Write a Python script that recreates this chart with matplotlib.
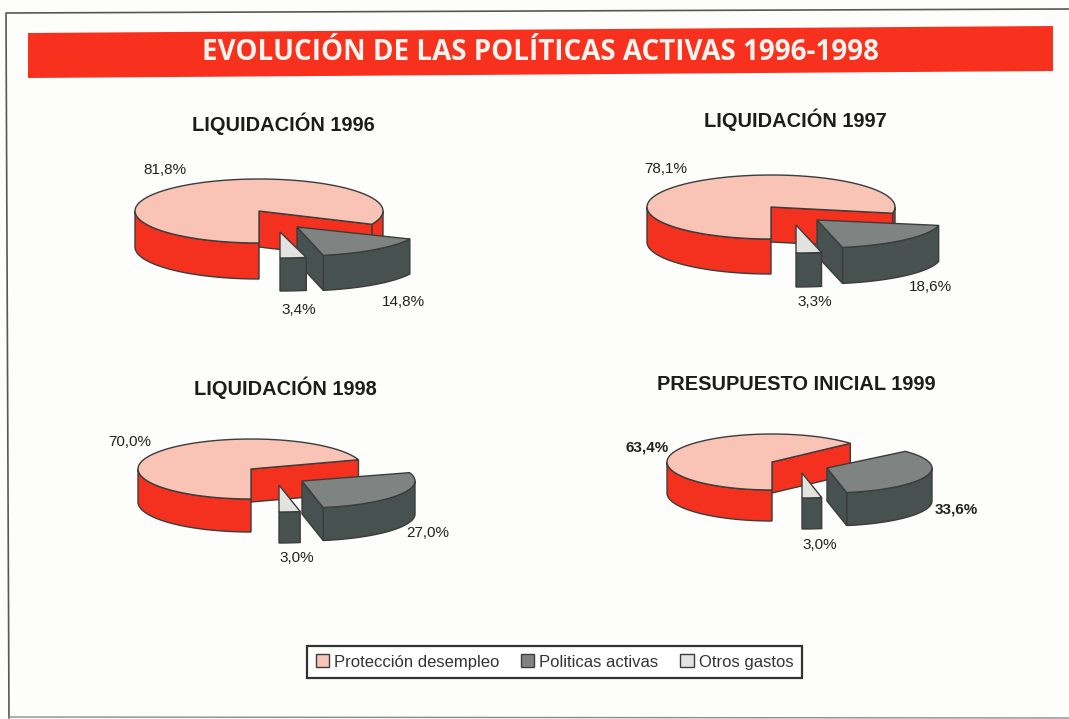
import matplotlib.pyplot as plt
import numpy as np
from matplotlib.patches import Polygon, Rectangle

titles = ["LIQUIDACIÓN 1996", "LIQUIDACIÓN 1997", "LIQUIDACIÓN 1998", "PRESUPUESTO INICIAL 1999"]
proteccion = [81.8, 78.1, 70.0, 63.4]
politicas = [14.8, 18.6, 27.0, 33.6]
otros = [3.4, 3.3, 3.0, 3.0]
legend_names = ["Protección desempleo", "Politicas activas", "Otros gastos"]

RED = "#f4301f"
PINK = "#f9c4b6"
DARK_TOP = "#7f8483"
DARK_SIDE = "#47514f"
GREY_TOP = "#e2e2df"
EDGE = "#3a3d3c"
BAR = "#f8301e"

# layout of each pie: centre, radii, depth, then (apex, ry, depth) of the two exploded slices
layout = [
    dict(c=(259, 211), rx=124, ry=32, d=36, dark=((297, 227), 29, 35), other=((280, 232), 26, 33)),
    dict(c=(771, 207), rx=124, ry=32, d=35, dark=((817, 220), 28, 36), other=((796, 225), 28, 34)),
    dict(c=(251, 469), rx=113, ry=30, d=33, dark=((302, 481), 27, 33), other=((279, 485), 27, 31)),
    dict(c=(772, 462), rx=105, ry=28, d=31, dark=((827, 468), 25, 33), other=((802, 473), 25, 31)),
]
title_pos = [(283, 124), (795, 120), (285, 388), (796, 384)]
main_lab = [(165, 170), (666, 169), (130, 442), (647, 447)]
dark_lab = [(403, 302), (930, 287), (428, 533), (956, 510)]
other_lab = [(299, 310), (815, 302), (297, 558), (820, 545)]
bold_main_dark = [False, False, False, True]


def arc(c, rx, ry, a1, a2):
    t = np.radians(np.linspace(a1, a2, 80))
    return np.column_stack([c[0] + rx * np.cos(t), c[1] - ry * np.sin(t)])


def draw_slice(ax, c, rx, ry, d, a1, a2, top, side, z):
    """slice running clockwise from a1 to a2 (degrees), with its visible walls"""
    down = np.array([0, d])
    # front part of the rim, may be two pieces when the slice wraps round
    for k in [-1, 0, 1]:
        lo = max(a2, 180 + 360 * k)
        hi = min(a1, 360 + 360 * k)
        if hi > lo:
            rim = arc(c, rx, ry, lo, hi)
            ax.add_patch(Polygon(np.vstack([rim, (rim + down)[::-1]]), fc=side, ec=EDGE, lw=1, zorder=z))
    # cut face at the end angle looks at the viewer only on the right half
    if np.cos(np.radians(a2)) > 1e-6:
        end = arc(c, rx, ry, a2, a2)[0]
        pts = [c, end, end + down, np.array(c) + down]
        ax.add_patch(Polygon(pts, fc=side, ec=EDGE, lw=1, zorder=z))
    pts = np.vstack([[c], arc(c, rx, ry, a1, a2)])
    ax.add_patch(Polygon(pts, fc=top, ec=EDGE, lw=1, zorder=z + 0.5))


fig = plt.figure(figsize=(10.69, 7.19), dpi=100, facecolor="#fdfdfb")
ax = fig.add_axes([0, 0, 1, 1])
ax.set_xlim(0, 1069)
ax.set_ylim(719, 0)
ax.axis("off")
plt.rcParams["font.family"] = ["Liberation Sans", "DejaVu Sans"]

ax.plot([9, 6, 1069], [718, 13, 9], color="#55585a", lw=1.2)
ax.plot([9, 1069], [717, 718], color="#8a8c8c", lw=1)
ax.add_patch(Polygon([(28, 33), (1053, 26), (1053, 71), (28, 78)], fc=BAR, ec="none"))
ax.text(540, 53, "EVOLUCIÓN DE LAS POLÍTICAS ACTIVAS 1996-1998", color="#fff4ee",
        fontsize=20, fontweight="bold", family="Open Sans", ha="center", va="center")

for i, lay in enumerate(layout):
    start = 270
    end_main = start - 360 * proteccion[i] / 100
    end_dark = end_main - 360 * politicas[i] / 100
    end_other = end_dark - 360 * otros[i] / 100
    rx = lay["rx"]
    draw_slice(ax, lay["c"], rx, lay["ry"], lay["d"], start, end_main, PINK, RED, 2)
    apex, ry, d = lay["dark"]
    draw_slice(ax, apex, rx, ry, d, end_main, end_dark, DARK_TOP, DARK_SIDE, 3)
    apex, ry, d = lay["other"]
    draw_slice(ax, apex, rx, ry, d, end_dark, end_other, GREY_TOP, DARK_SIDE, 4)

    ax.text(*title_pos[i], titles[i], fontsize=14.4, fontweight="bold", color="#1c1c1c",
            ha="center", va="center")
    labels = [(main_lab[i], proteccion[i], bold_main_dark[i]),
              (dark_lab[i], politicas[i], bold_main_dark[i]),
              (other_lab[i], otros[i], False)]
    for pos, val, bold in labels:
        txt = f"{val:.1f}%".replace(".", ",")
        ax.text(*pos, txt, fontsize=11, color="#222222", ha="center", va="center",
                fontweight="bold" if bold else "normal")

handles = [
    Rectangle((0, 0), 1, 1, fc=PINK, ec=EDGE, lw=1),
    Rectangle((0, 0), 1, 1, fc=DARK_TOP, ec=EDGE, lw=1),
    Rectangle((0, 0), 1, 1, fc=GREY_TOP, ec=EDGE, lw=1),
]
leg = ax.legend(handles, legend_names, ncol=3, loc="center", bbox_to_anchor=(554.5 / 1069, 1 - 662 / 719),
                fontsize=12, handlelength=0.8, handleheight=0.8, handletextpad=0.3, columnspacing=1.3,
                fancybox=False, framealpha=1, edgecolor="#333333", borderpad=0.5,
                labelcolor="#333333")
leg.get_frame().set_linewidth(1.6)

fig.savefig("out.png", dpi=100, facecolor=fig.get_facecolor())
